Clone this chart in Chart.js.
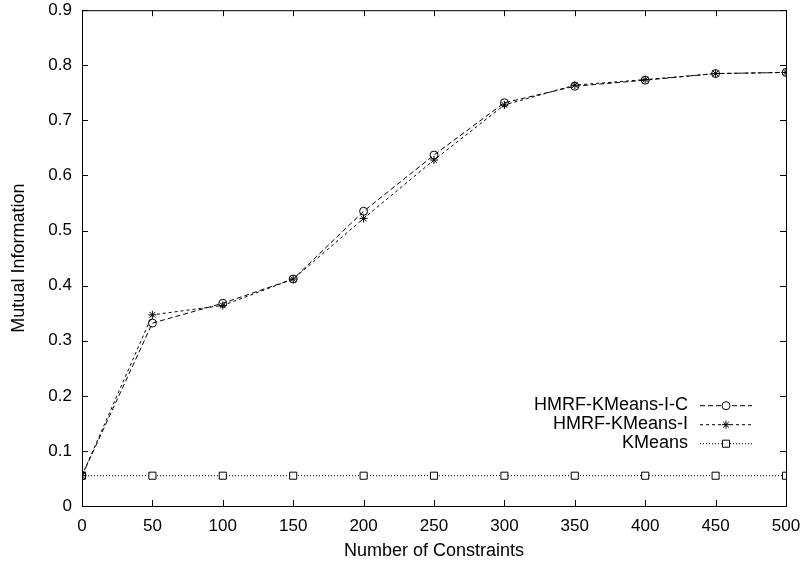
<!DOCTYPE html>
<html>
<head>
<meta charset="utf-8">
<script src="https://cdn.jsdelivr.net/npm/chart.js@4.4.1/dist/chart.umd.min.js"></script>
<style>
  html, body { margin: 0; padding: 0; background: #fff; }
  #wrap { width: 806px; height: 567px; }
</style>
</head>
<body>
<div id="wrap"><canvas id="miChart" width="806" height="567"></canvas></div>
<script>
// data
const constraints = [0, 50, 100, 150, 200, 250, 300, 350, 400, 450, 500];
const hmrfIC = [0.055, 0.332, 0.368, 0.412, 0.535, 0.637, 0.732, 0.762, 0.773, 0.785, 0.787];
const hmrfI  = [0.055, 0.347, 0.364, 0.412, 0.522, 0.628, 0.728, 0.764, 0.774, 0.785, 0.787];
const kmeans = [0.055, 0.055, 0.055, 0.055, 0.055, 0.055, 0.055, 0.055, 0.055, 0.055, 0.055];
const seriesNames = ['HMRF-KMeans-I-C', 'HMRF-KMeans-I', 'KMeans'];

const FONT = '"Liberation Sans", Arial, sans-serif';

function toPoints(ys) {
    return constraints.map((x, i) => ({ x: x, y: ys[i] }));
}

// gnuplot-like frame: box border with ticks pointing inward, mirrored
const framePlugin = {
    id: 'frame',
    afterDatasetsDraw(chart) {
        const ctx = chart.ctx;
        const a = chart.chartArea;
        const xs = chart.scales.x, ys = chart.scales.y;
        const len = 6;
        ctx.save();
        ctx.strokeStyle = '#000';
        ctx.lineWidth = 1;
        ctx.setLineDash([]);
        ctx.strokeRect(a.left + 0.5, a.top + 0.5, a.right - a.left, a.bottom - a.top);
        ctx.beginPath();
        xs.ticks.forEach(t => {
            const px = Math.round(xs.getPixelForValue(t.value)) + 0.5;
            ctx.moveTo(px, a.bottom); ctx.lineTo(px, a.bottom - len);
            ctx.moveTo(px, a.top); ctx.lineTo(px, a.top + len);
        });
        ys.ticks.forEach(t => {
            const py = Math.round(ys.getPixelForValue(t.value)) + 0.5;
            ctx.moveTo(a.left, py); ctx.lineTo(a.left + len, py);
            ctx.moveTo(a.right, py); ctx.lineTo(a.right - len, py);
        });
        ctx.stroke();
        ctx.restore();
    }
};

// legend drawn inside the plot, text right aligned with line sample on the right
const keyPlugin = {
    id: 'key',
    afterDatasetsDraw(chart) {
        const ctx = chart.ctx;
        const a = chart.chartArea;
        const textRight = a.right - 98;
        const sampleL = a.right - 86, sampleR = a.right - 34;
        const rowY = [a.top + 395, a.top + 414, a.top + 433];
        ctx.save();
        ctx.font = '18px ' + FONT;
        ctx.textAlign = 'right';
        ctx.textBaseline = 'middle';
        chart.data.datasets.forEach((ds, i) => {
            const y = rowY[i];
            ctx.fillStyle = '#000';
            ctx.fillText(ds.label, textRight, y);
            ctx.strokeStyle = '#000';
            ctx.lineWidth = 1;
            ctx.setLineDash(ds.borderDash);
            ctx.beginPath();
            ctx.moveTo(sampleL, y + 0.5);
            ctx.lineTo(sampleR, y + 0.5);
            ctx.stroke();
            ctx.setLineDash([]);
            ctx.fillStyle = '#fff';
            Chart.helpers.drawPoint(ctx, {
                pointStyle: ds.pointStyle,
                radius: ds.pointRadius,
                borderWidth: 1,
                rotation: 0
            }, (sampleL + sampleR) / 2, y + 0.5);
        });
        ctx.restore();
    }
};

const ctx = document.getElementById('miChart');
new Chart(ctx, {
    type: 'line',
    data: {
        datasets: [{
            label: seriesNames[0],
            data: toPoints(hmrfIC),
            borderColor: '#000',
            backgroundColor: 'rgba(0,0,0,0)',
            borderWidth: 1,
            borderDash: [5, 3],
            pointStyle: 'circle',
            pointRadius: 4,
            pointBorderColor: '#000',
            pointBackgroundColor: 'rgba(0,0,0,0)',
            pointBorderWidth: 1
        }, {
            label: seriesNames[1],
            data: toPoints(hmrfI),
            borderColor: '#000',
            backgroundColor: 'rgba(0,0,0,0)',
            borderWidth: 1,
            borderDash: [3, 3],
            pointStyle: 'star',
            pointRadius: 4,
            pointBorderColor: '#000',
            pointBackgroundColor: 'rgba(0,0,0,0)',
            pointBorderWidth: 1
        }, {
            label: seriesNames[2],
            data: toPoints(kmeans),
            borderColor: '#000',
            backgroundColor: 'rgba(0,0,0,0)',
            borderWidth: 1,
            borderDash: [1, 2],
            pointStyle: 'rect',
            pointRadius: 5,
            pointBorderColor: '#000',
            pointBackgroundColor: '#fff',
            pointBorderWidth: 1
        }]
    },
    options: {
        responsive: false,
        animation: false,
        layout: { padding: { top: 0, right: 20, left: 0, bottom: 0 } },
        plugins: {
            legend: { display: false },
            tooltip: { enabled: false }
        },
        scales: {
            x: {
                type: 'linear',
                min: 0,
                max: 500,
                ticks: { stepSize: 50, color: '#000', font: { family: FONT, size: 17 }, padding: 2, maxRotation: 0 },
                grid: { display: false },
                border: { display: false },
                title: { display: true, text: 'Number of Constraints', color: '#000', font: { family: FONT, size: 18 }, padding: { top: 4, bottom: 5 } },
                afterFit(scale) { scale.height = 61; }
            },
            y: {
                min: 0,
                max: 0.9,
                ticks: { stepSize: 0.1, color: '#000', font: { family: FONT, size: 17 }, padding: 0 },
                grid: { display: true, drawOnChartArea: false, drawTicks: true, tickLength: 10, tickColor: 'rgba(0,0,0,0)' },
                border: { display: false },
                title: { display: true, text: 'Mutual Information', color: '#000', font: { family: FONT, size: 18 }, padding: { top: 8, bottom: 4 } },
                afterFit(scale) { scale.width = 82; }
            }
        }
    },
    plugins: [framePlugin, keyPlugin]
});
</script>
</body>
</html>
